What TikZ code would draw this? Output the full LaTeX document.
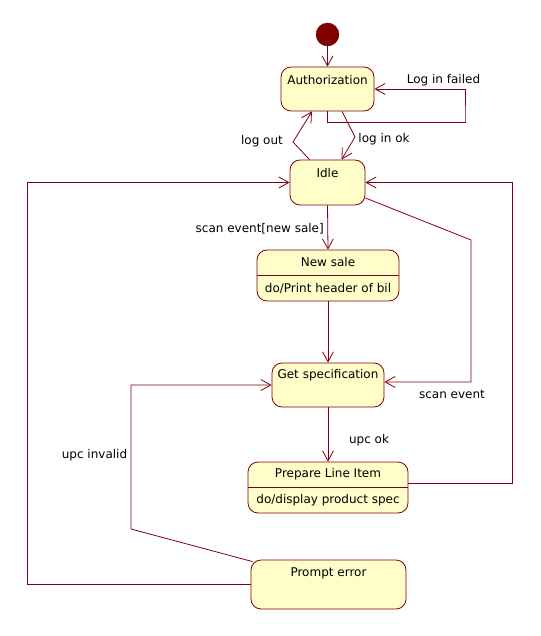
\documentclass[tikz,border=0pt]{standalone}
\usepackage{fontspec}
\setmainfont{DejaVu Sans}
\usetikzlibrary{arrows.meta}
\definecolor{brd}{RGB}{128,0,16}
\definecolor{fillc}{RGB}{255,253,200}
\definecolor{dotc}{RGB}{128,0,0}
\begin{document}
\begin{tikzpicture}[x=1pt,y=-1pt,
  state/.style={draw=brd,fill=fillc,rounded corners=10pt,line width=0.8pt,inner sep=0pt},
  lbl/.style={font=\fontsize{12pt}{14pt}\selectfont,inner sep=0pt,text=black},
  tr/.style={draw=brd,line width=0.8pt,-{Straight Barb[length=10pt,width=11pt,line width=0.8pt]}},
  ln/.style={draw=brd,line width=0.8pt}]
\useasboundingbox (0,0) rectangle (540,636);
% states
\node[circle,fill=dotc,draw=dotc,minimum size=23pt,inner sep=0pt] (init) at (327.5,34.5) {};
\node[state,minimum width=93pt,minimum height=44pt] (auth) at (327.5,89) {};
\node[lbl] (authT) at (327.5,80) {Authorization};
\node[state,minimum width=75pt,minimum height=45pt] (idle) at (327.5,182.5) {};
\node[lbl] (idleT) at (327.5,173) {Idle};
\node[state,minimum width=142pt,minimum height=51pt] (ns) at (328,275.5) {};
\node[lbl] (nsT) at (328,262.5) {New sale};
\node[lbl] (nsD) at (328,288.5) {do/Print header of bil};
\node[state,minimum width=112pt,minimum height=44pt] (gs) at (328,385) {};
\node[lbl] (gsT) at (328,375.5) {Get specification};
\node[state,minimum width=160pt,minimum height=51pt] (prep) at (328,487.5) {};
\node[lbl] (prepT) at (328,474.5) {Prepare Line Item};
\node[lbl] (prepD) at (328,500.5) {do/display product spec};
\node[state,minimum width=155pt,minimum height=49pt] (pe) at (328.5,584.5) {};
\node[lbl] (peT) at (328.5,573.5) {Prompt error};
% compartment dividers
\draw[ln] (ns.west) -- (ns.east);
\draw[ln] (prep.west) -- (prep.east);
% bend points
\coordinate (lf) at (465,122);
\coordinate (lok) at (355,137);
\coordinate (lout) at (293,142);
\coordinate (L) at (27,584.5);
\coordinate (R) at (512,483);
\coordinate (S1) at (471,240);
\coordinate (U1) at (131,529);
% transitions
\draw[tr] (init) -- (auth);
\draw[tr] (auth.south) -- ++(0,11) -| (lf) |- (auth.east);
\draw[tr] ([xshift=14.5pt]auth.south) -- (lok) -- ([xshift=14pt]idle.north);
\draw[tr] ([xshift=-18pt]idle.north) -- (lout) -- ([xshift=-15.5pt]auth.south);
\draw[tr] (pe.west) -- (L) |- (idle.west);
\draw[tr] ([yshift=4.5pt]prep.east) -- (R) |- (idle.east);
\draw[tr] ([yshift=-15.5pt]idle.east) -- (S1) |- ([yshift=3pt]gs.east);
\draw[tr] (idle.south) -- (ns.north);
\draw[tr] (ns.south) -- (gs.north);
\draw[tr] (gs.south) -- (prep.north);
\draw[tr] ([xshift=2pt,yshift=-2pt]pe.north west) -- (U1) |- (gs.west);
% labels
\node[lbl] (lLF) at (443.5,80.5) {Log in failed};
\node[lbl] (lLOK) at (384,139) {log in ok};
\node[lbl] (lLOUT) at (262,141) {log out};
\node[lbl,anchor=east] (lNS) at (324,229) {scan event[new sale]};
\node[lbl] (lSE) at (452,394) {scan event};
\node[lbl] (lUOK) at (369,440) {upc ok};
\node[lbl] (lUI) at (94.5,455) {upc invalid};
\end{tikzpicture}
\end{document}
